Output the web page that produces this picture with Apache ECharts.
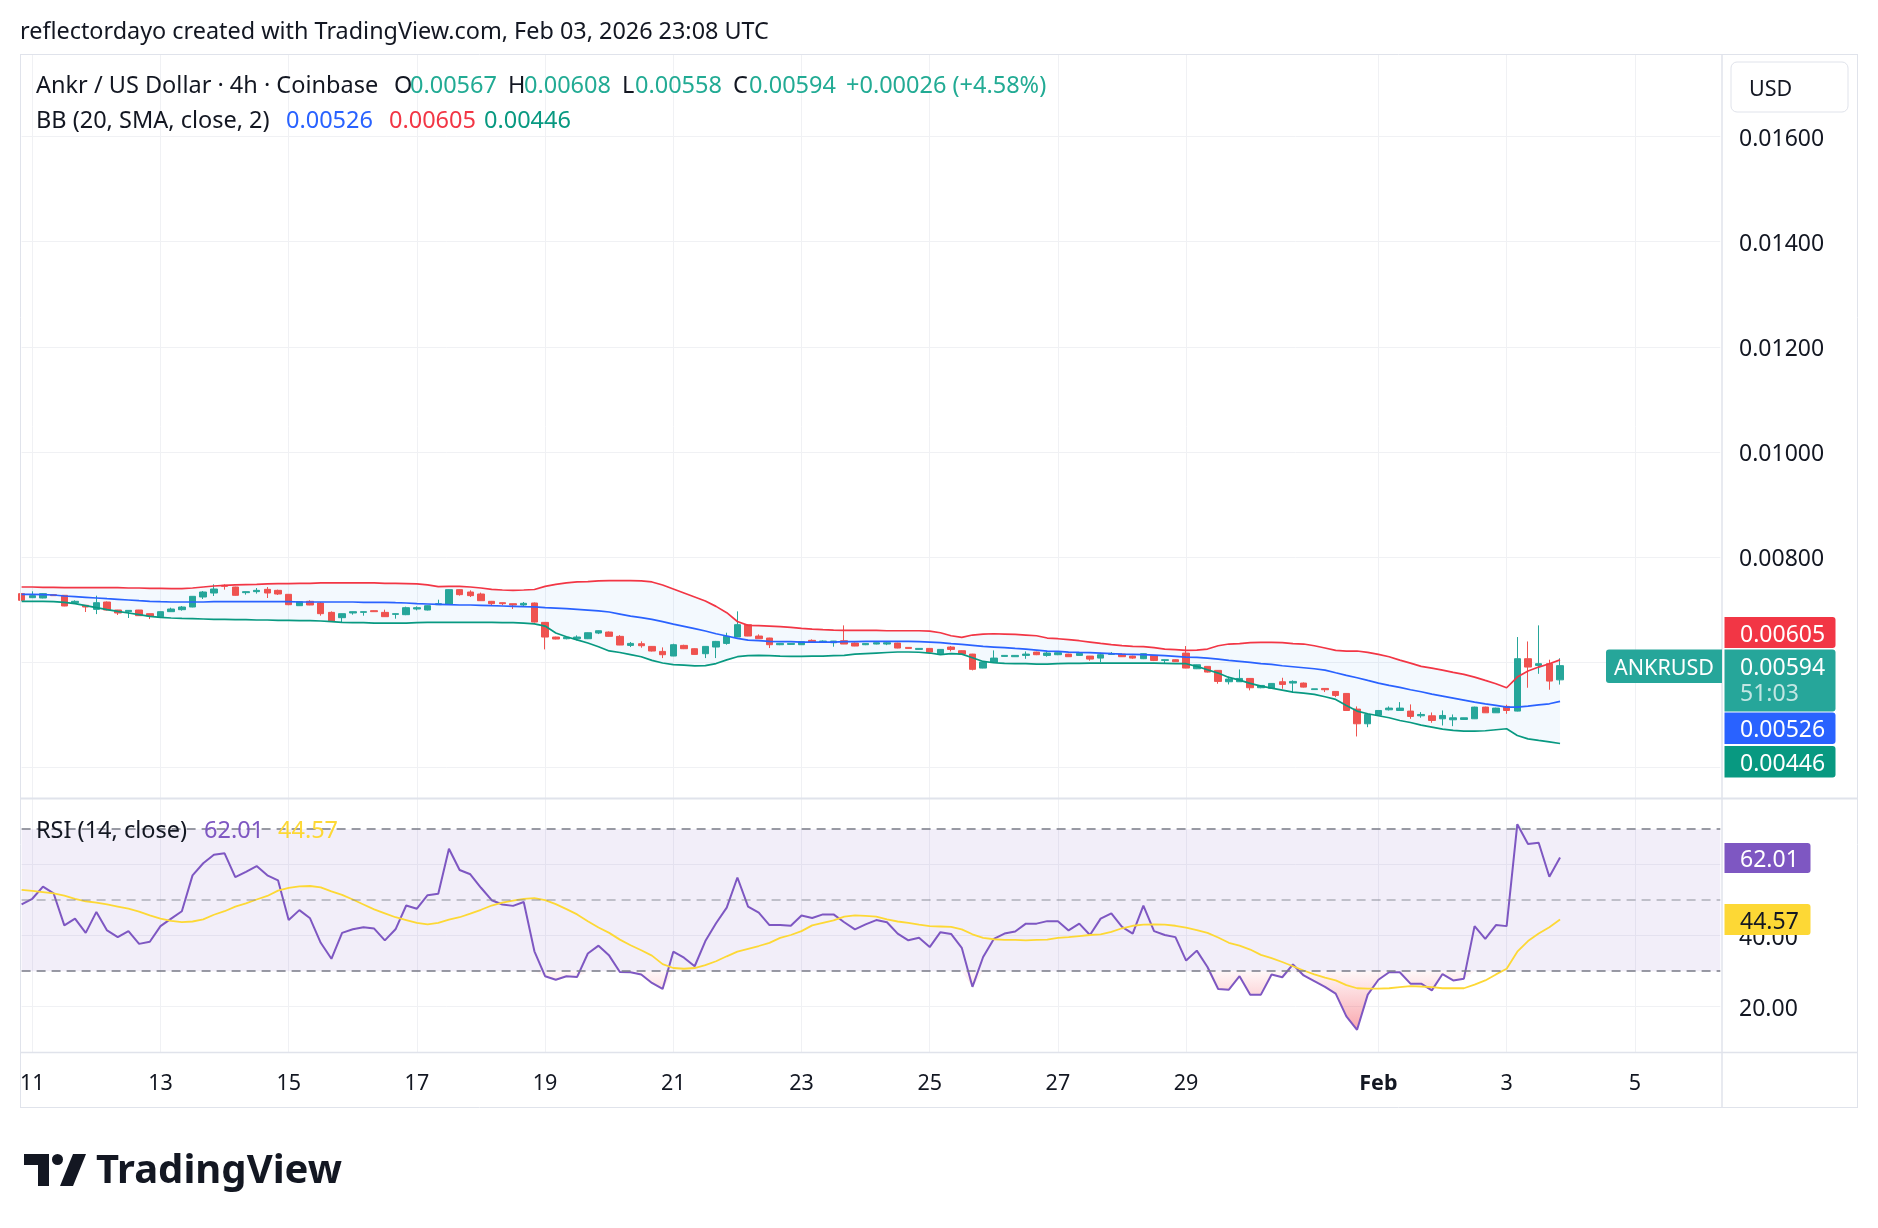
<!DOCTYPE html>
<html><head><meta charset="utf-8">
<script src="https://cdn.jsdelivr.net/npm/echarts@6/dist/echarts.min.js"></script>
<style>html,body{margin:0;padding:0;background:#fff}#c{width:1878px;height:1228px}</style>
</head><body><div id="c"></div>
<script>
// ---------- DATA (4h candles, Jan 10 20:00 -> Feb 3 20:00 UTC) ----------
const open = [0.007309,0.007232,0.007226,0.007290,0.007277,0.007137,0.007087,0.007010,0.007150,0.006998,
0.006966,0.006998,0.006928,0.006871,0.006966,0.007004,0.007055,0.007245,0.007321,0.007467,
0.007435,0.007328,0.007347,0.007391,0.007372,0.007296,0.007080,0.007163,0.007131,0.006953,
0.006852,0.006941,0.006953,0.006985,0.006953,0.006915,0.006909,0.007017,0.006998,0.007099,
0.007112,0.007385,0.007340,0.007302,0.007163,0.007137,0.007118,0.007093,0.007131,0.006763,
0.006484,0.006452,0.006452,0.006452,0.006560,0.006579,0.006497,0.006325,0.006357,0.006306,
0.006211,0.006123,0.006325,0.006262,0.006167,0.006294,0.006363,0.006484,0.006719,0.006503,
0.006465,0.006338,0.006344,0.006338,0.006421,0.006389,0.006376,0.006414,0.006370,0.006338,
0.006351,0.006351,0.006370,0.006287,0.006249,0.006268,0.006167,0.006294,0.006224,0.006160,
0.005894,0.006000,0.006116,0.006110,0.006135,0.006198,0.006135,0.006148,0.006160,0.006135,
0.006122,0.006084,0.006154,0.006160,0.006122,0.006072,0.006135,0.006040,0.006053,0.006179,
0.005881,0.005926,0.005850,0.005634,0.005634,0.005697,0.005520,0.005510,0.005634,0.005609,
0.005609,0.005485,0.005507,0.005450,0.005412,0.005114,0.004835,0.004998,0.005101,0.005088,
0.005076,0.004987,0.004987,0.004930,0.004911,0.004917,0.004930,0.005152,0.005044,0.005165,
0.005076,0.006072,0.005945,0.005977,0.005670];
const high = [0.007321,0.007353,0.007315,0.007296,0.007280,0.007182,0.007090,0.007270,0.007160,0.007000,
0.006995,0.007000,0.006930,0.006970,0.007042,0.007074,0.007260,0.007359,0.007486,0.007486,
0.007440,0.007350,0.007416,0.007435,0.007385,0.007300,0.007160,0.007182,0.007150,0.006972,
0.006930,0.006970,0.006970,0.006990,0.007004,0.006930,0.007061,0.007067,0.007085,0.007194,
0.007390,0.007390,0.007372,0.007328,0.007170,0.007140,0.007120,0.007150,0.007140,0.006770,
0.006490,0.006490,0.006516,0.006570,0.006610,0.006590,0.006520,0.006389,0.006402,0.006310,
0.006287,0.006357,0.006338,0.006270,0.006310,0.006410,0.006566,0.006972,0.006720,0.006535,
0.006470,0.006370,0.006365,0.006400,0.006440,0.006420,0.006410,0.006706,0.006380,0.006370,
0.006380,0.006390,0.006375,0.006290,0.006270,0.006270,0.006250,0.006313,0.006230,0.006165,
0.006010,0.006230,0.006140,0.006140,0.006210,0.006205,0.006210,0.006190,0.006165,0.006180,
0.006125,0.006186,0.006198,0.006165,0.006130,0.006170,0.006140,0.006055,0.006060,0.006313,
0.005960,0.005930,0.005855,0.005735,0.005868,0.005700,0.005570,0.005610,0.005710,0.005660,
0.005620,0.005500,0.005510,0.005455,0.005420,0.005165,0.005020,0.005095,0.005165,0.005247,
0.005203,0.005057,0.005050,0.005089,0.005012,0.004950,0.005160,0.005160,0.005140,0.005197,
0.006484,0.006400,0.006706,0.006053,0.006080];
const low = [0.007169,0.007225,0.007220,0.007265,0.007070,0.007130,0.006960,0.006920,0.006990,0.006903,
0.006846,0.006885,0.006826,0.006865,0.006960,0.006985,0.007050,0.007207,0.007264,0.007385,
0.007270,0.007290,0.007309,0.007226,0.007283,0.007090,0.007075,0.007090,0.006890,0.006780,
0.006763,0.006909,0.006890,0.006960,0.006865,0.006833,0.006900,0.006991,0.006990,0.007095,
0.007105,0.007271,0.007245,0.007170,0.007093,0.007087,0.007017,0.007055,0.006760,0.006249,
0.006440,0.006440,0.006420,0.006445,0.006540,0.006490,0.006330,0.006294,0.006281,0.006210,
0.006084,0.006120,0.006255,0.006150,0.006084,0.006084,0.006338,0.006480,0.006500,0.006450,
0.006275,0.006330,0.006340,0.006335,0.006385,0.006380,0.006300,0.006350,0.006310,0.006330,
0.006345,0.006330,0.006270,0.006265,0.006240,0.006190,0.006160,0.006211,0.006155,0.005850,
0.005890,0.005995,0.006110,0.006105,0.006070,0.006140,0.006110,0.006140,0.006105,0.006130,
0.006034,0.006008,0.006150,0.006105,0.006070,0.006065,0.006027,0.005990,0.006010,0.005890,
0.005875,0.005810,0.005596,0.005583,0.005630,0.005470,0.005510,0.005510,0.005500,0.005420,
0.005525,0.005480,0.005438,0.005342,0.005080,0.004594,0.004770,0.004990,0.005088,0.005080,
0.004930,0.004950,0.004854,0.004803,0.004790,0.004910,0.004925,0.005040,0.005040,0.005025,
0.005070,0.005520,0.005785,0.005482,0.005580];
const close = [0.007182,0.007271,0.007309,0.007271,0.007074,0.007163,0.007055,0.007137,0.006998,0.006941,
0.006991,0.006890,0.006884,0.006966,0.007017,0.007055,0.007258,0.007340,0.007397,0.007448,
0.007277,0.007347,0.007372,0.007321,0.007302,0.007099,0.007156,0.007093,0.006928,0.006788,
0.006928,0.006966,0.006966,0.006966,0.006871,0.006928,0.007042,0.007042,0.007080,0.007118,
0.007385,0.007290,0.007271,0.007175,0.007118,0.007118,0.007093,0.007125,0.006769,0.006484,
0.006446,0.006478,0.006484,0.006566,0.006604,0.006497,0.006332,0.006363,0.006319,0.006218,
0.006148,0.006338,0.006262,0.006154,0.006306,0.006401,0.006497,0.006719,0.006503,0.006452,
0.006338,0.006363,0.006363,0.006395,0.006389,0.006408,0.006408,0.006351,0.006313,0.006363,
0.006376,0.006376,0.006275,0.006268,0.006268,0.006198,0.006249,0.006249,0.006160,0.005870,
0.006008,0.006084,0.006135,0.006135,0.006160,0.006148,0.006180,0.006186,0.006110,0.006173,
0.006065,0.006148,0.006173,0.006110,0.006084,0.006167,0.006040,0.006053,0.006015,0.005894,
0.005957,0.005818,0.005640,0.005685,0.005697,0.005520,0.005564,0.005602,0.005583,0.005640,
0.005532,0.005500,0.005482,0.005374,0.005088,0.004835,0.005012,0.005088,0.005133,0.005133,
0.004974,0.005012,0.004898,0.004993,0.004949,0.004949,0.005152,0.005044,0.005133,0.005088,
0.006072,0.005913,0.005977,0.005647,0.005940];
const bbUpper = [0.007435,0.007435,0.007429,0.007429,0.007423,0.007423,0.007423,0.007423,0.007423,0.007423,
0.007416,0.007416,0.007410,0.007410,0.007404,0.007404,0.007416,0.007435,0.007454,0.007467,
0.007474,0.007480,0.007486,0.007493,0.007499,0.007499,0.007505,0.007505,0.007512,0.007512,
0.007512,0.007512,0.007512,0.007512,0.007505,0.007505,0.007499,0.007493,0.007474,0.007442,
0.007448,0.007448,0.007435,0.007416,0.007391,0.007378,0.007372,0.007378,0.007388,0.007448,
0.007486,0.007512,0.007531,0.007537,0.007550,0.007556,0.007556,0.007556,0.007550,0.007531,
0.007473,0.007397,0.007321,0.007245,0.007169,0.007067,0.006947,0.006780,0.006706,0.006700,
0.006693,0.006681,0.006668,0.006649,0.006636,0.006624,0.006617,0.006611,0.006611,0.006611,
0.006611,0.006604,0.006604,0.006604,0.006604,0.006598,0.006566,0.006509,0.006478,0.006522,
0.006541,0.006547,0.006541,0.006535,0.006522,0.006509,0.006465,0.006452,0.006433,0.006414,
0.006389,0.006363,0.006338,0.006319,0.006306,0.006300,0.006281,0.006256,0.006243,0.006230,
0.006237,0.006256,0.006319,0.006351,0.006357,0.006376,0.006382,0.006382,0.006376,0.006357,
0.006351,0.006319,0.006275,0.006230,0.006218,0.006218,0.006192,0.006154,0.006110,0.006046,
0.005989,0.005926,0.005894,0.005856,0.005812,0.005774,0.005723,0.005659,0.005596,0.005520,
0.005723,0.005837,0.005913,0.005977,0.006050];
const bbBasis = [0.007296,0.007296,0.007290,0.007283,0.007264,0.007252,0.007239,0.007226,0.007213,0.007201,
0.007188,0.007175,0.007163,0.007156,0.007150,0.007150,0.007150,0.007150,0.007156,0.007156,
0.007156,0.007156,0.007156,0.007156,0.007156,0.007156,0.007150,0.007150,0.007150,0.007150,
0.007150,0.007150,0.007144,0.007144,0.007144,0.007137,0.007131,0.007118,0.007112,0.007106,
0.007099,0.007093,0.007093,0.007087,0.007080,0.007074,0.007068,0.007061,0.007058,0.007045,
0.007035,0.007025,0.007010,0.006995,0.006980,0.006960,0.006920,0.006880,0.006852,0.006820,
0.006776,0.006731,0.006687,0.006643,0.006598,0.006547,0.006503,0.006459,0.006427,0.006414,
0.006401,0.006395,0.006395,0.006389,0.006389,0.006389,0.006389,0.006395,0.006395,0.006401,
0.006401,0.006401,0.006401,0.006401,0.006395,0.006389,0.006376,0.006357,0.006344,0.006325,
0.006306,0.006294,0.006281,0.006268,0.006256,0.006237,0.006218,0.006211,0.006199,0.006192,
0.006186,0.006180,0.006167,0.006160,0.006154,0.006148,0.006141,0.006129,0.006116,0.006103,
0.006097,0.006084,0.006065,0.006040,0.006021,0.006002,0.005977,0.005964,0.005938,0.005919,
0.005900,0.005881,0.005856,0.005805,0.005755,0.005710,0.005659,0.005609,0.005564,0.005526,
0.005482,0.005444,0.005399,0.005361,0.005323,0.005285,0.005247,0.005215,0.005184,0.005152,
0.005152,0.005171,0.005196,0.005215,0.005260];
const bbLower = [0.007163,0.007163,0.007163,0.007156,0.007144,0.007118,0.007080,0.007042,0.007004,0.006972,
0.006941,0.006909,0.006877,0.006858,0.006846,0.006839,0.006833,0.006827,0.006820,0.006820,
0.006814,0.006814,0.006808,0.006808,0.006801,0.006801,0.006795,0.006795,0.006789,0.006776,
0.006763,0.006757,0.006757,0.006750,0.006750,0.006750,0.006750,0.006757,0.006763,0.006763,
0.006763,0.006763,0.006763,0.006763,0.006763,0.006757,0.006757,0.006750,0.006735,0.006693,
0.006560,0.006490,0.006430,0.006370,0.006300,0.006220,0.006190,0.006150,0.006110,0.006040,
0.005990,0.005960,0.005950,0.005935,0.005940,0.005980,0.006050,0.006110,0.006129,0.006135,
0.006129,0.006122,0.006116,0.006116,0.006122,0.006122,0.006129,0.006135,0.006160,0.006170,
0.006180,0.006190,0.006200,0.006200,0.006195,0.006180,0.006150,0.006170,0.006160,0.006090,
0.006020,0.005995,0.005983,0.005977,0.005977,0.005970,0.005970,0.005977,0.005983,0.005983,
0.005989,0.005989,0.005989,0.005989,0.005989,0.005989,0.005989,0.005983,0.005977,0.005977,
0.005926,0.005862,0.005799,0.005716,0.005666,0.005602,0.005552,0.005513,0.005475,0.005437,
0.005418,0.005393,0.005349,0.005298,0.005184,0.005076,0.005025,0.004987,0.004949,0.004898,
0.004860,0.004809,0.004771,0.004733,0.004708,0.004695,0.004695,0.004702,0.004721,0.004740,
0.004613,0.004549,0.004518,0.004492,0.004460];
const rsi = [48.8,50.4,53.8,51.9,42.9,44.8,40.8,46.7,41.5,39.6,
41.3,37.7,38.3,42.7,44.8,46.9,57.0,60.4,62.8,63.2,
56.5,58.0,59.6,57.0,55.6,44.4,47.2,44.9,38.0,33.5,
40.8,41.8,42.4,42.0,38.7,41.8,48.5,47.6,51.4,51.8,
64.5,58.5,57.3,53.5,50.0,48.8,48.4,49.5,35.6,28.6,
27.6,28.6,28.4,35.0,37.2,34.4,29.8,29.7,29.1,26.7,
25.0,35.5,33.8,31.4,38.5,43.5,47.9,56.4,48.2,46.5,
43.0,43.0,42.8,45.7,45.0,46.0,46.0,43.8,41.8,43.2,
44.4,43.8,40.6,38.7,39.4,36.8,41.0,40.5,36.6,25.6,
34.0,39.1,40.6,41.2,43.4,43.4,44.1,44.1,41.5,43.4,
40.2,44.8,46.3,42.5,40.6,48.5,41.3,40.2,39.6,33.0,
35.8,31.2,25.0,24.8,28.6,23.4,23.4,29.1,28.3,31.9,
28.8,27.2,25.6,23.7,17.3,13.5,23.4,27.6,29.7,29.7,
26.5,26.5,24.6,29.2,27.4,27.9,42.7,39.1,43.0,42.7,
71.4,65.8,66.2,56.6,62.01];
const rsiMa = [52.9,52.6,52.3,51.9,51.3,50.4,49.7,49.3,48.8,48.2,
47.6,46.8,45.7,44.8,44.2,43.8,44.0,44.6,45.9,46.9,
48.2,49.1,50.2,51.2,52.7,53.5,53.9,54.0,53.6,52.5,
51.5,50.2,48.8,47.4,46.3,45.2,44.4,43.6,43.2,43.6,
44.5,45.2,46.2,47.3,48.5,49.3,49.9,50.4,50.6,50.0,
48.9,47.5,46.0,44.1,42.3,40.8,38.9,37.3,35.9,34.4,
32.0,30.9,30.7,30.9,31.7,32.8,34.2,35.5,36.3,37.1,
38.0,39.4,40.2,41.3,42.9,43.6,44.3,45.4,45.7,45.6,
45.4,44.6,44.0,43.6,43.1,42.7,42.6,42.5,41.8,40.4,
39.4,39.0,38.8,38.8,38.7,38.8,38.9,39.4,39.6,39.9,
40.2,40.4,41.1,42.1,42.8,43.1,43.2,43.1,42.8,42.3,
41.6,40.8,39.5,38.0,37.2,36.1,34.6,33.7,32.6,31.4,
30.2,29.1,28.2,27.4,26.1,25.2,25.1,25.1,25.2,25.5,
25.8,25.7,25.5,25.2,25.2,25.2,26.2,27.4,29.1,30.7,
35.5,38.5,40.6,42.4,44.57];
const tickDates = ['2026-01-11 00:00','2026-01-13 00:00','2026-01-15 00:00','2026-01-17 00:00','2026-01-19 00:00','2026-01-21 00:00','2026-01-23 00:00','2026-01-25 00:00','2026-01-27 00:00','2026-01-29 00:00','2026-02-01 00:00','2026-02-03 00:00','2026-02-05 00:00'];
const tickTexts = ['11','13','15','17','19','21','23','25','27','29','Feb','3','5'];
const priceTicks = [0.008,0.010,0.012,0.014,0.016];
const priceGrid = [0.004,0.006,0.008,0.010,0.012,0.014,0.016];
const rsiTicks = [20,40,60];
const rsiLabelTicks = [20,40]; // 60 sits under the RSI value badge
// categories: 4h slots from Jan 10 20:00 to Feb 6 08:00 (future slots empty)
const categories = [];
const t0 = Date.UTC(2026,0,10,20);
for (let k = 0; k < 160; k++) {
  categories.push(new Date(t0 + k*4*3600000).toISOString().slice(0,16).replace('T',' '));
}
// ---------- BUILD ----------
const FONT = 'Noto Sans';
const INK = '#131722';
const DY = 2.5; // baseline correction for text
const tickMap = {}; tickDates.forEach((d,k)=>{tickMap[d]=tickTexts[k];});
const isTick = (idx, val) => Object.prototype.hasOwnProperty.call(tickMap, val);
const candleData = open.map((o,i)=>[o, close[i], low[i], high[i]]);
const bandWidth = bbUpper.map((u,i)=>+(u - bbLower[i]).toFixed(7));
const osBase = rsi.map(v=>Math.min(v,30));
const osFill = rsi.map(v=>+(30-Math.min(v,30)).toFixed(3));
const obBase = rsi.map(()=>70);
const obFill = rsi.map(v=>+(Math.max(v,70)-70).toFixed(3));

const GL = 21.6, GW = 1698.7;
const gridColor = '#f0f1f4';
const frame = '#e0e3eb';

function txt(x, y, s, color, size, extra) {
  return Object.assign({type:'text', z:120, silent:true, style: Object.assign({
    x:x, y:y+DY, text:s, fill:color, font: (size||23)+'px "'+FONT+'"',
    textAlign:'left', align:'left', textVerticalAlign:'middle', verticalAlign:'middle'}, extra||{})});
}
function line(x1,y1,x2,y2,w,c){
  return {type:'line', z:110, silent:true, shape:{x1:x1,y1:y1,x2:x2,y2:y2}, style:{stroke:c||frame, lineWidth:w||1}};
}
function badge(x,y,w,h,fill,r){
  return {type:'rect', z:115, silent:true, shape:{x:x,y:y,width:w,height:h,r:r||[0,3,3,0]}, style:{fill:fill}};
}
const LF = 23.5; // legend font size

const graphics = [
  txt(20, 30, 'reflectordayo created with TradingView.com, Feb 03, 2026 23:08 UTC', INK, 23.4),
  // frame
  line(20,54.5,1858,54.5,1), line(20.5,54,20.5,1108,1), line(1857.5,54,1857.5,1108,1),
  line(20,1107.5,1858,1107.5,1), line(1722,54,1722,1108,1.5),
  line(20,798.5,1858,798.5,2), line(20,1052.5,1858,1052.5,1.5),
  // legend main
  txt(36, 84, 'Ankr / US Dollar · 4h · Coinbase', INK, LF),
  txt(394, 84, 'O', INK, LF), txt(410, 84, '0.00567', '#22ab94', LF),
  txt(508, 84, 'H', INK, LF), txt(524, 84, '0.00608', '#22ab94', LF),
  txt(622, 84, 'L', INK, LF), txt(635, 84, '0.00558', '#22ab94', LF),
  txt(733, 84, 'C', INK, LF), txt(749, 84, '0.00594', '#22ab94', LF),
  txt(846, 84, '+0.00026 (+4.58%)', '#22ab94', LF),
  txt(36, 118.6, 'BB (20, SMA, close, 2)', INK, LF),
  txt(286, 118.6, '0.00526', '#2962ff', LF),
  txt(389, 118.6, '0.00605', '#f23645', LF),
  txt(484, 118.6, '0.00446', '#089981', LF),
  // RSI legend
  txt(36, 829, 'RSI (14, close)', INK, LF),
  txt(204, 829, '62.01', '#7e57c2', LF),
  txt(278, 829, '44.57', '#fdd835', LF),
  // USD box
  {type:'rect', z:115, silent:true, shape:{x:1731,y:62,width:117,height:50,r:6}, style:{fill:'#fff', stroke:frame, lineWidth:1}},
  txt(1749, 87, 'USD', INK, 21.5),
  // TradingView logo
  {type:'polygon', z:120, silent:true, shape:{points:[[24,1154],[49,1154],[49,1186],[38,1186],[38,1165],[24,1165]]}, style:{fill:INK}},
  {type:'circle', z:120, silent:true, shape:{cx:57.5,cy:1159.5,r:5.5}, style:{fill:INK}},
  {type:'polygon', z:120, silent:true, shape:{points:[[60,1186],[73,1154],[86,1154],[73,1186]]}, style:{fill:INK}},
  txt(96, 1169, 'TradingView', INK, 40, {font:'bold 40px "'+FONT+'"'})
];
// price-scale badges (drawn above axis labels)
const badges = [
  badge(1724.5,617,111,31,'#f23645'), txt(1740,632.5,'0.00605','#ffffff',23),
  badge(1724.5,649.5,111,62,'#26a69a'), txt(1740,666,'0.00594','#ffffff',23), txt(1740,692,'51:03','rgba(255,255,255,0.72)',23),
  badge(1724.5,712.5,111,31.5,'#2962ff'), txt(1740,728,'0.00526','#ffffff',23),
  badge(1724.5,746,111,31.5,'#089981'), txt(1740,762,'0.00446','#ffffff',23),
  badge(1606,649.5,116,33.5,'#26a69a',[3,0,0,3]), txt(1664,666.5,'ANKRUSD','#ffffff',21.5,{textAlign:'center',align:'center'}),
  badge(1724.5,843,86,30,'#7e57c2'), txt(1740,858,'62.01','#ffffff',23),
  badge(1724.5,904,86,31,'#fdd835'), txt(1740,919.5,'44.57',INK,23)
];

const xBase = {
  type:'category', data:categories, boundaryGap:false,
  axisLine:{show:false}, axisTick:{show:false, interval:isTick},
  splitLine:{show:true, interval:isTick, lineStyle:{color:gridColor, width:1}}
};

const option = {
  animation:false,
  backgroundColor:'#ffffff',
  textStyle:{fontFamily:FONT},
  grid:[
    {left:GL, top:55, width:GW, height:743},
    {left:GL, top:799, width:GW, height:253}
  ],
  xAxis:[
    Object.assign({}, xBase, {gridIndex:0, axisLabel:{show:false}}),
    Object.assign({}, xBase, {gridIndex:1, axisLabel:{show:true, interval:isTick, margin:21, color:INK, fontSize:21.5, fontFamily:FONT,
      formatter:(v)=> (tickMap[v]==='Feb' ? '{b|Feb}' : (tickMap[v]||'')),
      rich:{b:{fontWeight:'bold', fontSize:21.5, color:INK, fontFamily:FONT}}}})
  ],
  yAxis:[
    {gridIndex:0, type:'value', position:'right', min:0.003424, max:0.017549,
     axisLine:{show:false}, axisTick:{show:false, customValues:priceGrid},
     axisLabel:{show:false, customValues:priceTicks},
     splitLine:{show:true, lineStyle:{color:gridColor, width:1}}},
    {gridIndex:1, type:'value', position:'right', min:7.25, max:78.5,
     axisLine:{show:false}, axisTick:{show:false, customValues:rsiTicks},
     axisLabel:{show:false, customValues:rsiTicks},
     splitLine:{show:true, lineStyle:{color:gridColor, width:1}}}
  ],
  series:[
    {name:'bbBase', type:'line', xAxisIndex:0, yAxisIndex:0, data:bbLower, stack:'bb', symbol:'none', silent:true,
     lineStyle:{width:0, opacity:0}, z:1},
    {name:'bbBand', type:'line', xAxisIndex:0, yAxisIndex:0, data:bandWidth, stack:'bb', symbol:'none', silent:true,
     lineStyle:{width:0, opacity:0}, areaStyle:{color:'rgba(33,150,243,0.055)', opacity:1}, z:1},
    {name:'ANKRUSD', type:'candlestick', xAxisIndex:0, yAxisIndex:0, data:candleData, barWidth:7, silent:true,
     itemStyle:{color:'#26a69a', color0:'#ef5350', borderColor:'#26a69a', borderColor0:'#ef5350', borderWidth:1}, z:2},
    {name:'bbUpper', type:'line', xAxisIndex:0, yAxisIndex:0, data:bbUpper, symbol:'none', silent:true,
     lineStyle:{color:'#f23645', width:1.7}, z:3},
    {name:'bbBasis', type:'line', xAxisIndex:0, yAxisIndex:0, data:bbBasis, symbol:'none', silent:true,
     lineStyle:{color:'#2962ff', width:1.7}, z:3},
    {name:'bbLower', type:'line', xAxisIndex:0, yAxisIndex:0, data:bbLower, symbol:'none', silent:true,
     lineStyle:{color:'#089981', width:1.7}, z:3},
    // RSI pane
    {name:'osBase', type:'line', xAxisIndex:1, yAxisIndex:1, data:osBase, stack:'os', symbol:'none', silent:true,
     lineStyle:{width:0, opacity:0}, z:1,
     markArea:{silent:true, itemStyle:{color:'rgba(126,87,194,0.1)'}, data:[[{yAxis:70},{yAxis:30}]]},
     markLine:{silent:true, symbol:'none', label:{show:false},
       data:[
         {yAxis:70, lineStyle:{color:'#787b86', type:[9,6], width:1.6}},
         {yAxis:50, lineStyle:{color:'rgba(120,123,134,0.55)', type:[9,6], width:1.6}},
         {yAxis:30, lineStyle:{color:'#787b86', type:[9,6], width:1.6}}
       ]}},
    {name:'osFill', type:'line', xAxisIndex:1, yAxisIndex:1, data:osFill, stack:'os', symbol:'none', silent:true,
     lineStyle:{width:0, opacity:0}, z:2,
     areaStyle:{opacity:1, color:new echarts.graphic.LinearGradient(0,971,0,1040,[
       {offset:0,color:'rgba(242,54,69,0.04)'},{offset:1,color:'rgba(242,54,69,0.5)'}], true)}},
    {name:'obBase', type:'line', xAxisIndex:1, yAxisIndex:1, data:obBase, stack:'ob', symbol:'none', silent:true,
     lineStyle:{width:0, opacity:0}, z:1},
    {name:'obFill', type:'line', xAxisIndex:1, yAxisIndex:1, data:obFill, stack:'ob', symbol:'none', silent:true,
     lineStyle:{width:0, opacity:0}, z:2,
     areaStyle:{opacity:1, color:new echarts.graphic.LinearGradient(0,800,0,829,[
       {offset:0,color:'rgba(8,153,129,0.5)'},{offset:1,color:'rgba(8,153,129,0.04)'}], true)}},
    {name:'RSI', type:'line', xAxisIndex:1, yAxisIndex:1, data:rsi, symbol:'none', silent:true,
     lineStyle:{color:'#7e57c2', width:2}, z:4},
    {name:'RSI MA', type:'line', xAxisIndex:1, yAxisIndex:1, data:rsiMa, symbol:'none', silent:true,
     lineStyle:{color:'#fdd835', width:1.8}, z:4}
  ],
  graphic:{elements:graphics}
};
const chart = echarts.init(document.getElementById('c'), null, {renderer:'canvas', width:1878, height:1228});
chart.setOption(option);
// price-scale tick labels, placed with the axes' own scales
const scaleLabels = [];
priceTicks.forEach(v=>{
  const y = chart.convertToPixel({yAxisIndex:0}, v);
  scaleLabels.push(txt(1739, y, v.toFixed(5), INK, 23, {}));
});
rsiLabelTicks.forEach(v=>{
  const y = chart.convertToPixel({yAxisIndex:1}, v);
  scaleLabels.push(txt(1739, y, v.toFixed(2), INK, 23, {}));
});
scaleLabels.forEach(e=>{ e.z = 112; });
chart.setOption({graphic:{elements: graphics.concat(scaleLabels, badges)}});
</script></body></html>
